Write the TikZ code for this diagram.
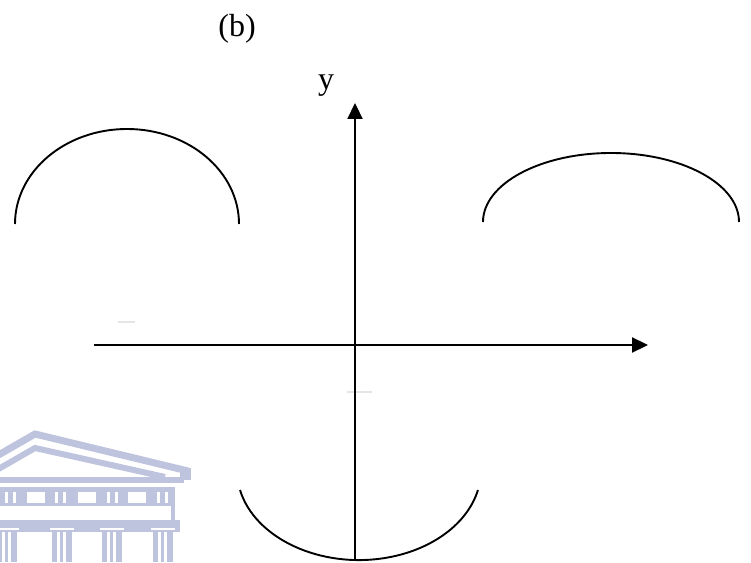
\documentclass[tikz,border=0pt]{standalone}
\usepackage{fontspec}
\setmainfont{Liberation Serif}
\usetikzlibrary{arrows.meta}
\definecolor{wm}{RGB}{190,195,222}
\begin{document}
\begin{tikzpicture}[x=1pt,y=1pt,
  curve/.style={line width=1.9pt, black},
  axis/.style={line width=2.2pt, black, -{Triangle[length=16pt,width=15pt]}},
  lbl/.style={font=\fontsize{32}{38}\selectfont, inner sep=0pt, anchor=base},
  wmfill/.style={fill=wm, draw=none},
  wmhole/.style={fill=white, draw=none},
  faint/.style={gray!20, line width=1.5pt}]
\useasboundingbox (0,0) rectangle (751,562);
% watermark building
\begin{scope}
\draw[wm, line width=7pt] (-5,105) -- (35,128) -- (188,91);
\draw[wm, line width=6pt] (-5,91) -- (35,114) -- (165,85);
\fill[wm] (180,82) rectangle (191,94);
\fill[wm] (0,79) rectangle (184,85);
\fill[wm] (0,56) rectangle (175,75);
\foreach \a in {27,78,128} \fill[white] (\a,59) rectangle (\a+18,70);
\foreach \a in {5,13,55,63,107,115,157,165} \fill[white] (\a,59) rectangle (\a+3,70);
\fill[wm] (171,42) rectangle (175,56);
\fill[wm] (0,30) rectangle (180,42);
\foreach \a in {-3,52,102,153} {
  \fill[white] (\a-2,32) rectangle (\a+22,34.5);
  \fill[wm] (\a,0) rectangle (\a+20,30);
  \fill[white] (\a+5,0) rectangle (\a+7.5,30);
  \fill[white] (\a+11,0) rectangle (\a+13.5,30);
}
\end{scope}
% faint marks
\draw[faint] (118,240) -- (135,240);
\draw[faint] (347,170) -- (372,170);
% axes
\coordinate (xs) at (94,217);
\coordinate (xe) at (648,217);
\coordinate (ys) at (355,2);
\coordinate (ye) at (355,459);
\draw[axis] (xs) -- (xe);
\draw[axis] (ys) -- (ye);
% curves
\draw[curve] (15,338) arc[start angle=180,end angle=0,x radius=112,y radius=95];
\draw[curve] (483,340) arc[start angle=180,end angle=0,x radius=128,y radius=69];
\draw[curve] (240,72) arc[start angle=192.8,end angle=347.2,x radius=122,y radius=90];
% labels
\node[lbl] (b) at (237,525) {(b)};
\node[lbl] (y) at (326,472) {y};
\end{tikzpicture}
\end{document}
